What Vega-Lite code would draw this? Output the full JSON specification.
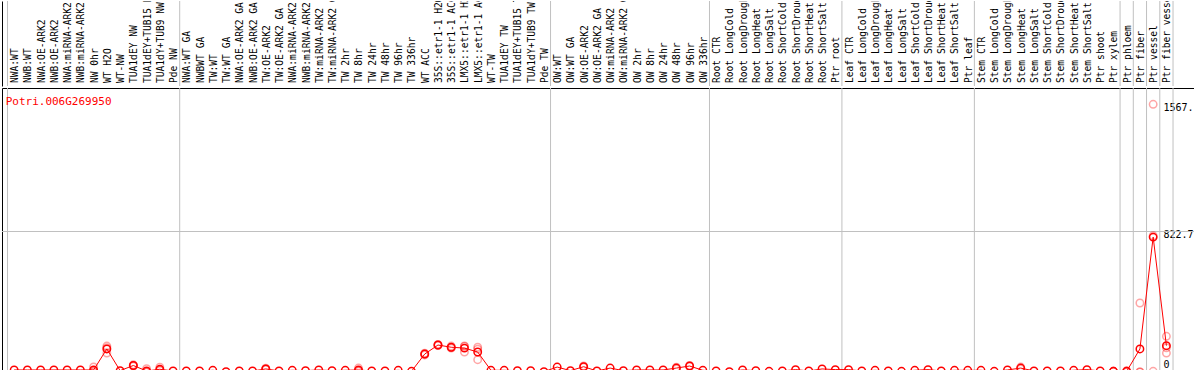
{
  "$schema": "https://vega.github.io/schema/vega-lite/v6.json",
  "padding": {"left": 1, "right": 1, "top": 0, "bottom": 1},
  "spacing": 0,
  "config": {"view": {"stroke": "black", "strokeWidth": 1}},
  "data": {"values": [
      {"t": "NWA:WT", "m": 12},
      {"t": "NWB:WT", "m": 12},
      {"t": "NWA:OE-ARK2", "m": 12},
      {"t": "NWB:OE-ARK2", "m": 12},
      {"t": "NWA:miRNA-ARK2", "m": 12},
      {"t": "NWB:miRNA-ARK2", "m": 12},
      {"t": "NW 0hr", "m": 12, "r1": 30, "r2": 4, "r3": 2},
      {"t": "WT H2O", "m": 135, "r1": 152, "r2": 111, "r3": 142},
      {"t": "WT-NW", "m": 8},
      {"t": "TUA1dEY NW", "m": 38, "r1": 42, "r2": 34, "r3": 38},
      {"t": "TUA1dEY+TUB15 NW", "m": 6, "r1": 20, "r2": 0, "r3": 0},
      {"t": "TUA1dY+TUB9 NW", "m": 16, "r1": 28, "r2": 10, "r3": 10},
      {"t": "Pde NW", "m": 6},
      {"t": "NWA:WT GA", "m": 6},
      {"t": "NWBWT GA", "m": 6},
      {"t": "TW:WT", "m": 10},
      {"t": "TW:WT GA", "m": 2},
      {"t": "NWA:OE-ARK2 GA", "m": 6},
      {"t": "NWB:OE-ARK2 GA", "m": 6},
      {"t": "TW:OE-ARK2", "m": 18, "r1": 22, "r2": 16, "r3": 16},
      {"t": "TW:OE-ARK2 GA", "m": 6},
      {"t": "NWA:miRNA-ARK2 GA", "m": 10},
      {"t": "NWB:miRNA-ARK2 GA", "m": 8},
      {"t": "TW:miRNA-ARK2", "m": 12},
      {"t": "TW:miRNA-ARK2 GA", "m": 8},
      {"t": "TW 2hr", "m": 10},
      {"t": "TW 8hr", "m": 12, "r1": 23, "r2": 8, "r3": 5},
      {"t": "TW 24hr", "m": 6},
      {"t": "TW 48hr", "m": 6},
      {"t": "TW 96hr", "m": 10},
      {"t": "TW 336hr", "m": 4},
      {"t": "WT ACC", "m": 105, "r1": 110, "r2": 100, "r3": 105},
      {"t": "35S::etr1-1 H2O", "m": 158, "r1": 162, "r2": 155, "r3": 157},
      {"t": "35S::etr1-1 ACC", "m": 145, "r1": 152, "r2": 140, "r3": 143},
      {"t": "LMX5::etr1-1 H2O", "m": 140, "r1": 150, "r2": 117, "r3": 153},
      {"t": "LMX5::etr1-1 ACC", "m": 117, "r1": 145, "r2": 72, "r3": 134},
      {"t": "WT-TW", "m": 10},
      {"t": "TUA1dEY TW", "m": 10},
      {"t": "TUA1dEY+TUB15 TW", "m": 8},
      {"t": "TUA1dY+TUB9 TW", "m": 8},
      {"t": "Pde TW", "m": 2},
      {"t": "OW:WT", "m": 29},
      {"t": "OW:WT GA", "m": 8},
      {"t": "OW:OE-ARK2", "m": 31, "r1": 35, "r2": 28},
      {"t": "OW:OE-ARK2 GA", "m": 6},
      {"t": "OW:miRNA-ARK2", "m": 23},
      {"t": "OW:miRNA-ARK2 GA", "m": 8},
      {"t": "OW 2hr", "m": 12},
      {"t": "OW 8hr", "m": 12},
      {"t": "OW 24hr", "m": 12},
      {"t": "OW 48hr", "m": 23, "r1": 28, "r2": 18},
      {"t": "OW 96hr", "m": 35, "r1": 38, "r2": 32},
      {"t": "OW 336hr", "m": 10},
      {"t": "Root CTR", "m": 6},
      {"t": "Root LongCold", "m": 2},
      {"t": "Root LongDrought", "m": 12},
      {"t": "Root LongHeat", "m": 8},
      {"t": "Root LongSalt", "m": 4},
      {"t": "Root ShortCold", "m": 6},
      {"t": "Root ShortDrought", "m": 14},
      {"t": "Root ShortHeat", "m": 6},
      {"t": "Root ShortSalt", "m": 18},
      {"t": "Ptr root", "m": 14},
      {"t": "Leaf CTR", "m": 14},
      {"t": "Leaf LongCold", "m": 6},
      {"t": "Leaf LongDrought", "m": 10},
      {"t": "Leaf LongHeat", "m": 6},
      {"t": "Leaf LongSalt", "m": 4},
      {"t": "Leaf ShortCold", "m": 10},
      {"t": "Leaf ShortDrought", "m": 14},
      {"t": "Leaf ShortHeat", "m": 6},
      {"t": "Leaf ShortSalt", "m": 10},
      {"t": "Ptr leaf", "m": 10},
      {"t": "Stem CTR", "m": 10},
      {"t": "Stem LongCold", "m": 4},
      {"t": "Stem LongDrought", "m": 12},
      {"t": "Stem LongHeat", "m": 23, "r1": 29, "r2": 18},
      {"t": "Stem LongSalt", "m": 6},
      {"t": "Stem ShortCold", "m": 6},
      {"t": "Stem ShortDrought", "m": 6},
      {"t": "Stem ShortHeat", "m": 10},
      {"t": "Stem ShortSalt", "m": 14},
      {"t": "Ptr shoot", "m": 6},
      {"t": "Ptr xylem", "m": 4, "r1": 4, "r2": 4, "r3": 4},
      {"t": "Ptr phloem", "m": 4, "r1": 0, "r2": 8, "r3": 4},
      {"t": "Ptr fiber", "m": 135, "r1": 404, "r2": 0, "r3": 0},
      {"t": "Ptr vessel", "m": 790, "r1": 1567.5, "r2": 4, "r3": 798},
      {"t": "Ptr fiber vessel", "m": 154, "r1": 209, "r2": 111, "r3": 142}
  ]},
  "vconcat": [
    {
      "width": 1192,
      "height": 85,
      "view": {"stroke": null},
      "resolve": {"scale": {"y": "independent"}},
      "layer": [
        {
          "transform": [{"filter": {"field": "t", "oneOf": ["NWA:WT", "NWA:WT GA", "OW:WT", "Root CTR", "Leaf CTR", "Stem CTR", "Ptr phloem", "Ptr fiber", "Ptr vessel", "Ptr fiber vessel"]}}],
          "mark": {"type": "rule", "color": "#c0c0c0", "strokeWidth": 1},
          "encoding": {
            "x": {"field": "t", "type": "nominal", "bandPosition": 0, "axis": null},
            "y": {"datum": 0, "type": "quantitative", "scale": {"domain": [0, 1]},
              "axis": {"orient": "right", "domain": true, "domainColor": "black", "domainWidth": 1, "ticks": false, "labels": false, "grid": false, "title": null}},
            "y2": {"datum": 1}
          }
        },
        {
          "transform": [{"filter": {"field": "t", "equal": "Ptr fiber vessel"}}],
          "mark": {"type": "rule", "color": "#c0c0c0", "strokeWidth": 1},
          "encoding": {
            "x": {"field": "t", "type": "nominal", "bandPosition": 1, "axis": null}
          }
        },
        {
          "mark": {"type": "text", "angle": 270, "align": "left", "baseline": "middle", "font": "DejaVu Sans Mono", "fontSize": 9.6, "dx": 3, "dy": 1, "clip": true, "color": "black"},
          "encoding": {
            "x": {"field": "t", "type": "nominal", "axis": null,
              "scale": {"type": "band", "paddingInner": 0, "paddingOuter": 1.846, "align": 0.2083,
                "domain": ["NWA:WT","NWB:WT","NWA:OE-ARK2","NWB:OE-ARK2","NWA:miRNA-ARK2","NWB:miRNA-ARK2","NW 0hr","WT H2O","WT-NW","TUA1dEY NW","TUA1dEY+TUB15 NW","TUA1dY+TUB9 NW","Pde NW","NWA:WT GA","NWBWT GA","TW:WT","TW:WT GA","NWA:OE-ARK2 GA","NWB:OE-ARK2 GA","TW:OE-ARK2","TW:OE-ARK2 GA","NWA:miRNA-ARK2 GA","NWB:miRNA-ARK2 GA","TW:miRNA-ARK2","TW:miRNA-ARK2 GA","TW 2hr","TW 8hr","TW 24hr","TW 48hr","TW 96hr","TW 336hr","WT ACC","35S::etr1-1 H2O","35S::etr1-1 ACC","LMX5::etr1-1 H2O","LMX5::etr1-1 ACC","WT-TW","TUA1dEY TW","TUA1dEY+TUB15 TW","TUA1dY+TUB9 TW","Pde TW","OW:WT","OW:WT GA","OW:OE-ARK2","OW:OE-ARK2 GA","OW:miRNA-ARK2","OW:miRNA-ARK2 GA","OW 2hr","OW 8hr","OW 24hr","OW 48hr","OW 96hr","OW 336hr","Root CTR","Root LongCold","Root LongDrought","Root LongHeat","Root LongSalt","Root ShortCold","Root ShortDrought","Root ShortHeat","Root ShortSalt","Ptr root","Leaf CTR","Leaf LongCold","Leaf LongDrought","Leaf LongHeat","Leaf LongSalt","Leaf ShortCold","Leaf ShortDrought","Leaf ShortHeat","Leaf ShortSalt","Ptr leaf","Stem CTR","Stem LongCold","Stem LongDrought","Stem LongHeat","Stem LongSalt","Stem ShortCold","Stem ShortDrought","Stem ShortHeat","Stem ShortSalt","Ptr shoot","Ptr xylem","Ptr phloem","Ptr fiber","Ptr vessel","Ptr fiber vessel"]}},
            "y": {"datum": 0, "type": "quantitative", "scale": {"domain": [0, 1]},
              "axis": {"orient": "left", "domain": true, "domainColor": "black", "domainWidth": 1, "ticks": false, "labels": false, "grid": false, "title": null}},
            "text": {"field": "t", "type": "nominal"}
          }
        }
      ]
    },
    {
      "width": 1192,
      "height": 284,
      "layer": [
        {
          "transform": [{"filter": {"field": "t", "oneOf": ["NWA:WT", "NWA:WT GA", "OW:WT", "Root CTR", "Leaf CTR", "Stem CTR", "Ptr phloem", "Ptr fiber", "Ptr vessel", "Ptr fiber vessel"]}}],
          "mark": {"type": "rule", "color": "#c0c0c0", "strokeWidth": 1},
          "encoding": {
            "x": {"field": "t", "type": "nominal", "bandPosition": 0, "axis": null}
          }
        },
        {
          "transform": [{"filter": {"field": "t", "equal": "Ptr fiber vessel"}}],
          "mark": {"type": "rule", "color": "#c0c0c0", "strokeWidth": 1},
          "encoding": {
            "x": {"field": "t", "type": "nominal", "bandPosition": 1, "axis": null}
          }
        },
        {
          "mark": {"type": "line", "color": "#ff0000", "strokeWidth": 1},
          "encoding": {
            "x": {"field": "t", "type": "nominal", "axis": null,
              "scale": {"type": "band", "paddingInner": 0, "paddingOuter": 1.846, "align": 0.2083,
                "domain": ["NWA:WT","NWB:WT","NWA:OE-ARK2","NWB:OE-ARK2","NWA:miRNA-ARK2","NWB:miRNA-ARK2","NW 0hr","WT H2O","WT-NW","TUA1dEY NW","TUA1dEY+TUB15 NW","TUA1dY+TUB9 NW","Pde NW","NWA:WT GA","NWBWT GA","TW:WT","TW:WT GA","NWA:OE-ARK2 GA","NWB:OE-ARK2 GA","TW:OE-ARK2","TW:OE-ARK2 GA","NWA:miRNA-ARK2 GA","NWB:miRNA-ARK2 GA","TW:miRNA-ARK2","TW:miRNA-ARK2 GA","TW 2hr","TW 8hr","TW 24hr","TW 48hr","TW 96hr","TW 336hr","WT ACC","35S::etr1-1 H2O","35S::etr1-1 ACC","LMX5::etr1-1 H2O","LMX5::etr1-1 ACC","WT-TW","TUA1dEY TW","TUA1dEY+TUB15 TW","TUA1dY+TUB9 TW","Pde TW","OW:WT","OW:WT GA","OW:OE-ARK2","OW:OE-ARK2 GA","OW:miRNA-ARK2","OW:miRNA-ARK2 GA","OW 2hr","OW 8hr","OW 24hr","OW 48hr","OW 96hr","OW 336hr","Root CTR","Root LongCold","Root LongDrought","Root LongHeat","Root LongSalt","Root ShortCold","Root ShortDrought","Root ShortHeat","Root ShortSalt","Ptr root","Leaf CTR","Leaf LongCold","Leaf LongDrought","Leaf LongHeat","Leaf LongSalt","Leaf ShortCold","Leaf ShortDrought","Leaf ShortHeat","Leaf ShortSalt","Ptr leaf","Stem CTR","Stem LongCold","Stem LongDrought","Stem LongHeat","Stem LongSalt","Stem ShortCold","Stem ShortDrought","Stem ShortHeat","Stem ShortSalt","Ptr shoot","Ptr xylem","Ptr phloem","Ptr fiber","Ptr vessel","Ptr fiber vessel"]}},
            "y": {"field": "m", "type": "quantitative",
              "scale": {"domain": [0, 1663], "nice": false, "zero": true},
              "axis": {"orient": "right", "offset": -31, "values": [0, 822.7, 1567],
                "labelExpr": "datum.value == 0 ? '0' : (datum.value == 822.7 ? '822.7' : '1567.')",
                "domain": false, "ticks": false, "title": null, "grid": false,
                "labelAlign": "left", "labelPadding": 0, "labelFont": "DejaVu Sans Mono", "labelFontSize": 10, "labelColor": "black",
                "labelFlush": true, "labelFlushOffset": -6, "labelOverlap": false, "labelOffset": 3}}
          }
        },
        {
          "mark": {"type": "rule", "color": "#c0c0c0", "strokeWidth": 1},
          "encoding": {
            "y": {"datum": 822.7, "type": "quantitative", "axis": {"title": null}}
          }
        },
        {
          "mark": {"type": "point", "shape": "circle", "filled": false, "color": "#ff0000", "opacity": 0.35, "size": 55, "strokeWidth": 1.5},
          "encoding": {
            "x": {"field": "t", "type": "nominal", "axis": null},
            "y": {"field": "r1", "type": "quantitative", "axis": {"title": null}}
          }
        },
        {
          "mark": {"type": "point", "shape": "circle", "filled": false, "color": "#ff0000", "opacity": 0.35, "size": 55, "strokeWidth": 1.5},
          "encoding": {
            "x": {"field": "t", "type": "nominal", "axis": null},
            "y": {"field": "r2", "type": "quantitative", "axis": {"title": null}}
          }
        },
        {
          "mark": {"type": "point", "shape": "circle", "filled": false, "color": "#ff0000", "opacity": 0.35, "size": 55, "strokeWidth": 1.5},
          "encoding": {
            "x": {"field": "t", "type": "nominal", "axis": null},
            "y": {"field": "r3", "type": "quantitative", "axis": {"title": null}}
          }
        },
        {
          "mark": {"type": "point", "shape": "circle", "filled": false, "color": "#ff0000", "opacity": 1, "size": 55, "strokeWidth": 1.5},
          "encoding": {
            "x": {"field": "t", "type": "nominal", "axis": null},
            "y": {"field": "m", "type": "quantitative", "axis": {"title": null}}
          }
        },
        {
          "data": {"values": [{"label": "Potri.006G269950", "col": "NWA:WT", "top": 1663}]},
          "mark": {"type": "text", "align": "left", "baseline": "top", "dx": -8.5, "dy": 8, "font": "DejaVu Sans Mono", "fontSize": 11, "color": "#ff0000"},
          "encoding": {
            "x": {"field": "col", "type": "nominal", "axis": null},
            "y": {"field": "top", "type": "quantitative", "axis": {"title": null}},
            "text": {"field": "label", "type": "nominal"}
          }
        }
      ]
    }
  ]
}
